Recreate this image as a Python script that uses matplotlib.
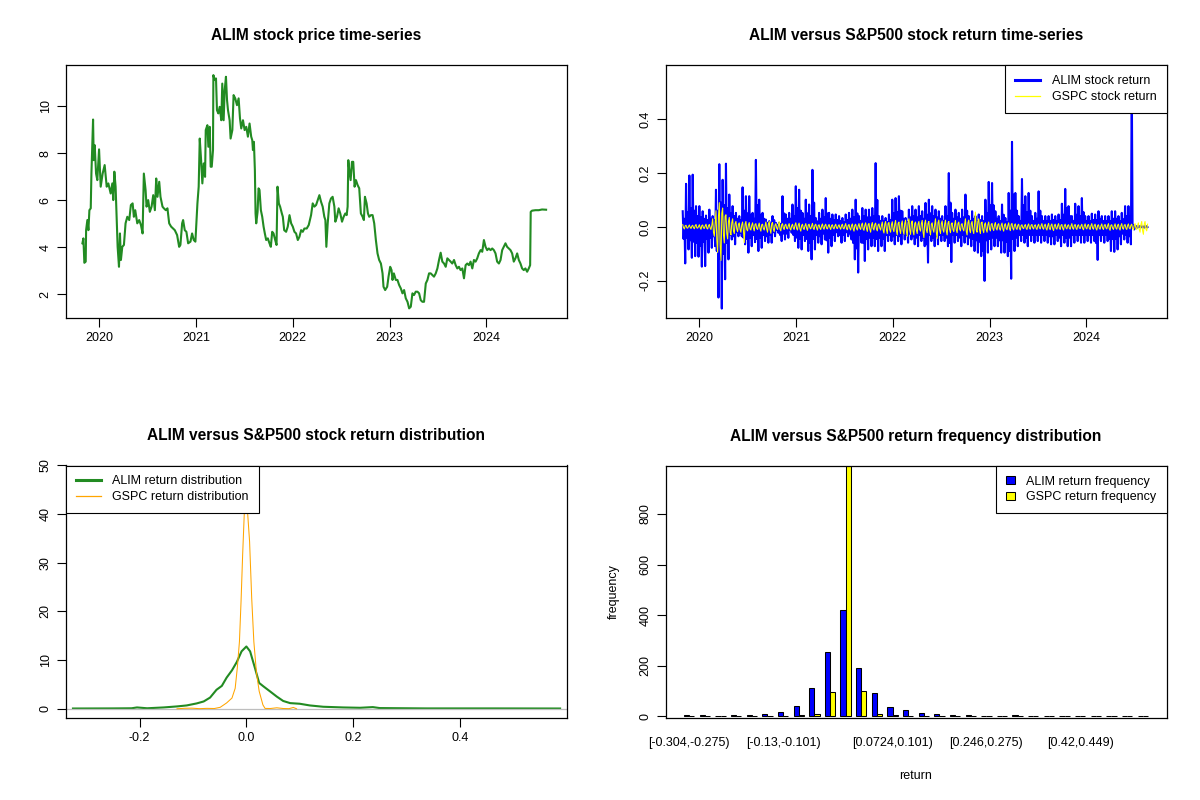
import numpy as np
import matplotlib
matplotlib.use("Agg")
import matplotlib.pyplot as plt
from matplotlib.lines import Line2D
from matplotlib.patches import Patch
from matplotlib.ticker import FormatStrFormatter

plt.rcParams["font.family"] = ["Liberation Sans", "DejaVu Sans"]
plt.rcParams["axes.unicode_minus"] = False

# ---- data ----

# ALIM closing price (decimal year, USD)
price_years = [
    2019.825, 2019.835, 2019.845, 2019.859, 2019.863, 2019.876, 2019.887, 2019.897, 2019.911, 2019.918,
    2019.935, 2019.942, 2019.952, 2019.966, 2019.979, 2019.997, 2020.014, 2020.034, 2020.055, 2020.076,
    2020.093, 2020.117, 2020.134, 2020.144, 2020.155, 2020.168, 2020.179, 2020.189, 2020.203, 2020.213,
    2020.223, 2020.237, 2020.254, 2020.271, 2020.289, 2020.309, 2020.326, 2020.344, 2020.357, 2020.371,
    2020.392, 2020.412, 2020.430, 2020.447, 2020.460, 2020.478, 2020.488, 2020.505, 2020.522, 2020.540,
    2020.557, 2020.574, 2020.588, 2020.601, 2020.619, 2020.632, 2020.653, 2020.667, 2020.687, 2020.704,
    2020.722, 2020.742, 2020.763, 2020.780, 2020.804, 2020.825, 2020.838, 2020.856, 2020.866, 2020.883,
    2020.900, 2020.918, 2020.942, 2020.959, 2020.976, 2020.993, 2021.003, 2021.014, 2021.027, 2021.038,
    2021.052, 2021.065, 2021.079, 2021.093, 2021.100, 2021.117, 2021.127, 2021.141, 2021.151, 2021.162,
    2021.175, 2021.179, 2021.192, 2021.206, 2021.216, 2021.230, 2021.244, 2021.261, 2021.271, 2021.285,
    2021.296, 2021.309, 2021.320, 2021.330, 2021.347, 2021.357, 2021.375, 2021.388, 2021.405, 2021.423,
    2021.440, 2021.454, 2021.467, 2021.485, 2021.502, 2021.519, 2021.536, 2021.553, 2021.570, 2021.581,
    2021.588, 2021.598, 2021.608, 2021.615, 2021.622, 2021.636, 2021.646, 2021.656, 2021.670, 2021.684,
    2021.698, 2021.711, 2021.725, 2021.742, 2021.759, 2021.773, 2021.787, 2021.801, 2021.818, 2021.832,
    2021.842, 2021.856, 2021.869, 2021.887, 2021.897, 2021.911, 2021.931, 2021.948, 2021.966, 2021.983,
    2022.000, 2022.017, 2022.034, 2022.052, 2022.069, 2022.086, 2022.103, 2022.120, 2022.144, 2022.165,
    2022.189, 2022.206, 2022.223, 2022.241, 2022.258, 2022.275, 2022.292, 2022.309, 2022.326, 2022.337,
    2022.347, 2022.361, 2022.378, 2022.395, 2022.412, 2022.430, 2022.440, 2022.457, 2022.474, 2022.491,
    2022.509, 2022.526, 2022.543, 2022.557, 2022.567, 2022.574, 2022.584, 2022.598, 2022.612, 2022.625,
    2022.639, 2022.653, 2022.670, 2022.687, 2022.704, 2022.722, 2022.735, 2022.746, 2022.763, 2022.777,
    2022.790, 2022.808, 2022.825, 2022.842, 2022.859, 2022.876, 2022.893, 2022.911, 2022.928, 2022.938,
    2022.955, 2022.976, 2022.990, 2023.007, 2023.021, 2023.031, 2023.045, 2023.065, 2023.082, 2023.100,
    2023.117, 2023.134, 2023.151, 2023.168, 2023.186, 2023.203, 2023.220, 2023.237, 2023.254, 2023.271,
    2023.289, 2023.306, 2023.323, 2023.340, 2023.357, 2023.375, 2023.392, 2023.409, 2023.426, 2023.443,
    2023.460, 2023.478, 2023.495, 2023.512, 2023.529, 2023.546, 2023.564, 2023.581, 2023.598, 2023.615,
    2023.632, 2023.649, 2023.667, 2023.684, 2023.701, 2023.718, 2023.735, 2023.753, 2023.770, 2023.787,
    2023.804, 2023.821, 2023.838, 2023.856, 2023.873, 2023.890, 2023.907, 2023.924, 2023.942, 2023.959,
    2023.976, 2023.993, 2024.010, 2024.027, 2024.045, 2024.062, 2024.079, 2024.096, 2024.113, 2024.131,
    2024.148, 2024.165, 2024.182, 2024.199, 2024.216, 2024.234, 2024.251, 2024.268, 2024.285, 2024.302,
    2024.320, 2024.337, 2024.354, 2024.371, 2024.388, 2024.405, 2024.423, 2024.440, 2024.454, 2024.460,
    2024.474, 2024.509, 2024.543, 2024.577, 2024.619,
]
price_values = [
    4.16, 4.37, 3.33, 3.38, 4.72, 5.15, 4.72, 5.57, 5.65, 7.13,
    9.43, 7.70, 8.34, 7.13, 6.85, 8.16, 6.57, 7.13, 7.49, 6.57,
    6.71, 6.28, 6.71, 6.00, 7.21, 6.57, 5.29, 4.01, 3.16, 4.58,
    3.45, 4.01, 4.09, 5.01, 5.29, 5.15, 5.79, 5.86, 5.29, 5.57,
    5.01, 5.15, 4.94, 4.58, 7.13, 6.43, 5.72, 6.00, 5.50, 5.72,
    6.21, 5.57, 6.92, 6.14, 6.78, 6.14, 5.72, 5.65, 5.57, 5.65,
    5.01, 4.87, 4.79, 4.72, 4.51, 4.01, 4.09, 5.01, 5.15, 4.72,
    4.65, 4.16, 4.23, 4.58, 4.30, 4.23, 5.01, 5.86, 6.57, 8.62,
    7.70, 6.71, 7.56, 6.99, 8.98, 9.19, 8.27, 9.12, 7.42, 7.42,
    8.13, 11.32, 11.11, 11.18, 9.83, 9.69, 9.97, 9.40, 10.96, 9.40,
    10.68, 11.25, 10.26, 9.83, 9.40, 8.62, 8.98, 10.47, 10.33, 10.04,
    10.33, 9.48, 9.05, 9.40, 8.98, 9.12, 8.70, 9.26, 8.70, 8.55,
    8.13, 8.48, 7.28, 5.43, 5.01, 5.50, 6.50, 6.43, 5.57, 5.29,
    4.87, 4.58, 4.30, 4.37, 4.16, 4.01, 4.65, 4.58, 4.30, 4.09,
    6.57, 5.86, 5.72, 5.43, 5.29, 4.72, 4.65, 4.87, 5.36, 5.01,
    4.87, 4.65, 4.58, 4.30, 4.44, 4.72, 4.65, 4.79, 4.79, 4.94,
    5.36, 5.86, 5.72, 5.79, 6.00, 6.21, 5.93, 5.72, 5.29, 5.15,
    4.01, 5.01, 5.86, 6.07, 6.14, 5.72, 5.08, 5.29, 5.65, 5.43,
    5.08, 5.29, 5.43, 5.36, 5.72, 7.70, 7.28, 6.85, 7.63, 7.63,
    6.57, 6.85, 6.64, 6.50, 5.43, 5.29, 5.15, 6.14, 5.86, 5.43,
    5.29, 5.36, 5.36, 5.01, 4.30, 3.73, 3.45, 3.30, 2.88, 2.31,
    2.17, 2.31, 2.74, 3.16, 3.02, 2.60, 2.88, 2.60, 2.60, 2.38,
    2.24, 2.03, 2.17, 1.82, 1.67, 1.39, 1.46, 2.03, 1.96, 2.10,
    2.10, 2.03, 1.74, 1.67, 1.67, 2.45, 2.60, 2.88, 2.88, 2.81,
    2.74, 2.88, 3.09, 3.45, 3.76, 3.38, 3.30, 3.16, 3.52, 3.45,
    3.38, 3.30, 3.45, 3.23, 3.09, 3.16, 3.02, 3.09, 2.67, 3.23,
    3.30, 3.23, 3.38, 3.09, 3.45, 3.38, 3.52, 3.73, 3.87, 3.80,
    4.30, 4.01, 3.87, 3.94, 3.87, 3.94, 3.87, 3.73, 3.38, 3.30,
    3.45, 3.87, 4.01, 4.16, 4.01, 3.94, 3.87, 3.73, 3.38, 3.52,
    3.73, 3.45, 3.30, 3.09, 3.02, 3.09, 2.95, 3.09, 3.23, 5.50,
    5.55, 5.57, 5.57, 5.60, 5.59,
]

# daily returns, first and last trading day of the sample
ret_start, ret_end = 2019.828, 2024.634
# ALIM returns: largest up and down move in each ~two-week stretch
alim_returns = [
    0.058, -0.136, 0.160, -0.084, 0.191, -0.115, 0.194, -0.109, 0.077, -0.111, 0.077, -0.148, 0.058, -0.146, 0.042, -0.096, 0.064, -0.078, 0.040, -0.072,
    0.138, -0.263, 0.233, -0.304, 0.175, -0.195, 0.235, -0.121, 0.120, -0.047, 0.077, -0.065, 0.052, -0.035, 0.040, -0.035, 0.147, -0.065, 0.114, -0.096,
    0.114, -0.072, 0.052, -0.057, 0.249, -0.090, 0.101, -0.078, 0.052, -0.053, 0.027, -0.059, 0.021, -0.059, 0.040, -0.035, 0.015, -0.022, 0.015, -0.053,
    0.114, -0.047, 0.046, -0.041, 0.052, -0.022, 0.083, -0.053, 0.151, -0.078, 0.138, -0.084, 0.052, -0.053, 0.101, -0.090, 0.083, -0.121, 0.212, -0.084,
    0.033, -0.059, 0.052, -0.065, 0.064, -0.047, 0.107, -0.096, 0.052, -0.072, 0.046, -0.053, 0.046, -0.035, 0.040, -0.059, 0.033, -0.053, 0.046, -0.035,
    0.052, -0.047, 0.064, -0.121, 0.101, -0.170, 0.040, -0.059, 0.070, -0.127, 0.064, -0.084, 0.064, -0.072, 0.070, -0.072, 0.237, -0.090, 0.040, -0.072,
    0.040, -0.090, 0.033, -0.053, 0.046, -0.053, 0.101, -0.065, 0.107, -0.053, 0.114, -0.065, 0.058, -0.047, 0.033, -0.059, 0.064, -0.047, 0.077, -0.065,
    0.064, -0.072, 0.077, -0.053, 0.058, -0.072, 0.089, -0.133, 0.101, -0.053, 0.077, -0.072, 0.064, -0.065, 0.058, -0.053, 0.040, -0.053, 0.077, -0.072,
    0.200, -0.131, 0.052, -0.059, 0.064, -0.053, 0.052, -0.072, 0.064, -0.059, 0.120, -0.065, 0.040, -0.072, 0.058, -0.090, 0.040, -0.096, 0.046, -0.109,
    0.040, -0.201, 0.101, -0.096, 0.167, -0.084, 0.163, -0.072, 0.058, -0.072, 0.040, -0.096, 0.083, -0.096, 0.033, -0.109, 0.126, -0.193, 0.316, -0.090,
    0.126, -0.072, 0.040, -0.053, 0.178, -0.059, 0.114, -0.072, 0.126, -0.053, 0.040, -0.059, 0.052, -0.053, 0.132, -0.059, 0.040, -0.053, 0.040, -0.059,
    0.040, -0.065, 0.046, -0.065, 0.040, -0.053, 0.046, -0.072, 0.086, -0.059, 0.141, -0.072, 0.077, -0.072, 0.040, -0.059, 0.086, -0.053, 0.077, -0.059,
    0.107, -0.059, 0.040, -0.053, 0.040, -0.059, 0.049, -0.053, 0.046, -0.123, 0.058, -0.053, 0.040, -0.059, 0.040, -0.053, 0.040, -0.090, 0.058, -0.093,
    0.058, -0.084, 0.040, -0.065, 0.052, -0.047, 0.077, -0.059, 0.077, -0.065, 0.565, -0.010, 0.004, -0.003, 0.003, -0.002, 0.002, -0.003, 0.003, -0.001,
]
# ALIM returns: a typical up and down day in the same stretches (dense core of the band)
alim_typical = [
    0.030, -0.045, 0.055, -0.040, 0.070, -0.050, 0.060, -0.055, 0.040, -0.060, 0.035, -0.070, 0.030, -0.055, 0.025, -0.045, 0.030, -0.040, 0.025, -0.035,
    0.060, -0.090, 0.090, -0.120, 0.080, -0.100, 0.070, -0.060, 0.050, -0.030, 0.040, -0.035, 0.030, -0.020, 0.025, -0.022, 0.060, -0.040, 0.050, -0.045,
    0.045, -0.040, 0.030, -0.030, 0.080, -0.045, 0.045, -0.040, 0.030, -0.030, 0.015, -0.035, 0.012, -0.030, 0.025, -0.020, 0.008, -0.012, 0.010, -0.030,
    0.050, -0.025, 0.030, -0.025, 0.030, -0.012, 0.040, -0.030, 0.070, -0.040, 0.060, -0.045, 0.030, -0.030, 0.050, -0.045, 0.040, -0.060, 0.090, -0.045,
    0.020, -0.030, 0.030, -0.035, 0.035, -0.025, 0.050, -0.050, 0.030, -0.040, 0.025, -0.030, 0.025, -0.020, 0.022, -0.030, 0.018, -0.030, 0.025, -0.020,
    0.030, -0.025, 0.035, -0.060, 0.050, -0.080, 0.022, -0.030, 0.040, -0.060, 0.035, -0.045, 0.035, -0.040, 0.040, -0.040, 0.100, -0.045, 0.022, -0.040,
    0.022, -0.045, 0.018, -0.030, 0.025, -0.030, 0.050, -0.035, 0.055, -0.030, 0.060, -0.035, 0.030, -0.025, 0.018, -0.030, 0.035, -0.025, 0.040, -0.035,
    0.035, -0.040, 0.040, -0.030, 0.030, -0.040, 0.045, -0.065, 0.050, -0.030, 0.040, -0.040, 0.035, -0.035, 0.030, -0.030, 0.022, -0.030, 0.040, -0.040,
    0.090, -0.060, 0.030, -0.030, 0.035, -0.030, 0.030, -0.040, 0.035, -0.030, 0.060, -0.035, 0.022, -0.040, 0.030, -0.045, 0.022, -0.050, 0.025, -0.055,
    0.022, -0.090, 0.050, -0.050, 0.080, -0.045, 0.080, -0.040, 0.030, -0.040, 0.022, -0.050, 0.045, -0.050, 0.018, -0.055, 0.060, -0.090, 0.120, -0.045,
    0.060, -0.040, 0.022, -0.030, 0.080, -0.030, 0.055, -0.040, 0.060, -0.030, 0.022, -0.030, 0.030, -0.030, 0.060, -0.030, 0.022, -0.030, 0.022, -0.030,
    0.022, -0.035, 0.025, -0.035, 0.022, -0.030, 0.025, -0.040, 0.045, -0.030, 0.070, -0.040, 0.040, -0.040, 0.022, -0.030, 0.045, -0.030, 0.040, -0.030,
    0.055, -0.030, 0.022, -0.030, 0.022, -0.030, 0.025, -0.030, 0.025, -0.060, 0.030, -0.030, 0.022, -0.030, 0.022, -0.030, 0.022, -0.045, 0.030, -0.045,
    0.030, -0.045, 0.022, -0.035, 0.028, -0.025, 0.040, -0.030, 0.040, -0.035, 0.005, -0.004, 0.002, -0.002, 0.002, -0.001, 0.001, -0.002, 0.002, -0.001,
]
# S&P500 (GSPC) returns: largest up and down move in the same stretches
gspc_returns = [
    0.008, -0.008, 0.006, -0.005, 0.007, -0.006, 0.006, -0.007, 0.009, -0.005, 0.008, -0.009, 0.007, -0.006, 0.010, -0.008, 0.009, -0.010, 0.030, -0.035,
    0.060, -0.095, 0.090, -0.125, 0.070, -0.060, 0.045, -0.045, 0.035, -0.030, 0.030, -0.025, 0.020, -0.018, 0.015, -0.020, 0.018, -0.059, 0.020, -0.015,
    0.016, -0.012, 0.015, -0.015, 0.012, -0.010, 0.014, -0.016, 0.010, -0.012, 0.018, -0.020, 0.020, -0.024, 0.016, -0.018, 0.012, -0.010, 0.020, -0.015,
    0.012, -0.010, 0.010, -0.008, 0.012, -0.012, 0.010, -0.010, 0.015, -0.012, 0.014, -0.016, 0.010, -0.010, 0.012, -0.013, 0.010, -0.008, 0.013, -0.010,
    0.010, -0.012, 0.008, -0.010, 0.011, -0.009, 0.010, -0.008, 0.009, -0.010, 0.008, -0.008, 0.010, -0.007, 0.008, -0.009, 0.010, -0.008, 0.012, -0.011,
    0.009, -0.012, 0.011, -0.016, 0.010, -0.012, 0.012, -0.010, 0.014, -0.013, 0.015, -0.017, 0.013, -0.020, 0.016, -0.012, 0.014, -0.015, 0.011, -0.012,
    0.018, -0.023, 0.020, -0.025, 0.016, -0.020, 0.019, -0.018, 0.024, -0.030, 0.018, -0.025, 0.022, -0.028, 0.025, -0.035, 0.030, -0.028, 0.022, -0.030,
    0.018, -0.025, 0.020, -0.016, 0.024, -0.040, 0.025, -0.022, 0.020, -0.030, 0.015, -0.020, 0.030, -0.043, 0.025, -0.025, 0.022, -0.020, 0.025, -0.030,
    0.020, -0.022, 0.015, -0.018, 0.024, -0.022, 0.018, -0.015, 0.012, -0.015, 0.030, -0.030, 0.025, -0.022, 0.020, -0.025, 0.055, -0.020, 0.030, -0.025,
    0.018, -0.022, 0.015, -0.020, 0.018, -0.015, 0.013, -0.014, 0.016, -0.012, 0.012, -0.013, 0.014, -0.016, 0.012, -0.011, 0.015, -0.014, 0.013, -0.012,
    0.011, -0.010, 0.010, -0.012, 0.008, -0.007, 0.009, -0.010, 0.011, -0.009, 0.009, -0.008, 0.008, -0.010, 0.010, -0.008, 0.012, -0.009, 0.010, -0.012,
    0.013, -0.011, 0.011, -0.014, 0.010, -0.009, 0.012, -0.010, 0.009, -0.012, 0.010, -0.008, 0.008, -0.009, 0.012, -0.009, 0.009, -0.010, 0.008, -0.007,
    0.010, -0.011, 0.011, -0.008, 0.009, -0.010, 0.012, -0.009, 0.010, -0.012, 0.008, -0.009, 0.011, -0.010, 0.009, -0.008, 0.012, -0.013, 0.008, -0.010,
    0.011, -0.009, 0.010, -0.012, 0.012, -0.009, 0.009, -0.010, 0.011, -0.008, 0.010, -0.011, 0.012, -0.010, 0.015, -0.020, 0.020, -0.028, 0.020, -0.015,
]
# S&P500 (GSPC) returns: a typical up and down day in the same stretches
gspc_typical = [
    0.004, -0.003, 0.002, -0.004, 0.003, -0.002, 0.004, -0.003, 0.002, -0.004, 0.005, -0.003, 0.003, -0.004, 0.004, -0.005, 0.006, -0.004, 0.015, -0.020,
    0.040, -0.050, 0.050, -0.070, 0.040, -0.030, 0.020, -0.025, 0.015, -0.020, 0.012, -0.015, 0.010, -0.008, 0.008, -0.010, 0.010, -0.012, 0.008, -0.010,
    0.006, -0.008, 0.009, -0.005, 0.005, -0.006, 0.008, -0.007, 0.004, -0.006, 0.010, -0.008, 0.012, -0.010, 0.006, -0.009, 0.005, -0.004, 0.008, -0.009,
    0.006, -0.004, 0.005, -0.005, 0.004, -0.006, 0.006, -0.004, 0.007, -0.006, 0.005, -0.008, 0.004, -0.005, 0.007, -0.005, 0.004, -0.004, 0.006, -0.005,
    0.005, -0.004, 0.004, -0.005, 0.005, -0.004, 0.003, -0.005, 0.005, -0.003, 0.004, -0.004, 0.003, -0.004, 0.005, -0.003, 0.004, -0.005, 0.005, -0.006,
    0.005, -0.006, 0.006, -0.007, 0.004, -0.006, 0.007, -0.005, 0.006, -0.008, 0.008, -0.006, 0.006, -0.009, 0.009, -0.006, 0.007, -0.008, 0.006, -0.005,
    0.010, -0.012, 0.012, -0.010, 0.008, -0.011, 0.010, -0.009, 0.012, -0.015, 0.010, -0.012, 0.012, -0.014, 0.015, -0.016, 0.014, -0.012, 0.012, -0.016,
    0.010, -0.012, 0.012, -0.009, 0.012, -0.018, 0.013, -0.011, 0.010, -0.014, 0.008, -0.010, 0.015, -0.020, 0.012, -0.013, 0.010, -0.011, 0.014, -0.015,
    0.011, -0.010, 0.008, -0.010, 0.012, -0.011, 0.009, -0.008, 0.007, -0.008, 0.015, -0.016, 0.012, -0.011, 0.010, -0.013, 0.020, -0.012, 0.015, -0.012,
    0.009, -0.011, 0.008, -0.010, 0.009, -0.008, 0.007, -0.007, 0.008, -0.006, 0.006, -0.007, 0.007, -0.008, 0.006, -0.006, 0.008, -0.007, 0.007, -0.006,
    0.006, -0.005, 0.005, -0.006, 0.004, -0.004, 0.005, -0.005, 0.006, -0.005, 0.005, -0.004, 0.004, -0.005, 0.005, -0.004, 0.006, -0.005, 0.005, -0.006,
    0.006, -0.006, 0.006, -0.007, 0.005, -0.005, 0.006, -0.005, 0.005, -0.006, 0.005, -0.004, 0.004, -0.005, 0.006, -0.005, 0.005, -0.005, 0.004, -0.004,
    0.005, -0.006, 0.006, -0.004, 0.005, -0.005, 0.006, -0.005, 0.005, -0.006, 0.004, -0.005, 0.006, -0.005, 0.005, -0.004, 0.006, -0.007, 0.004, -0.005,
    0.006, -0.005, 0.005, -0.006, 0.006, -0.005, 0.005, -0.005, 0.006, -0.004, 0.005, -0.006, 0.006, -0.005, 0.008, -0.010, 0.010, -0.014, 0.010, -0.008,
]

# kernel density estimates of the returns
alim_dens_x = [-0.325, -0.250, -0.215, -0.205, -0.186, -0.155, -0.130, -0.112, -0.093, -0.080,
               -0.068, -0.056, -0.046, -0.037, -0.027, -0.018, -0.009, 0.000, 0.007, 0.016,
               0.024, 0.032, 0.044, 0.057, 0.069, 0.082, 0.100, 0.119, 0.144, 0.181,
               0.213, 0.237, 0.250, 0.337, 0.462, 0.588]
alim_dens_y = [0.05, 0.07, 0.10, 0.27, 0.10, 0.27, 0.48, 0.68, 1.10, 1.50,
               2.30, 3.90, 4.70, 6.40, 7.90, 9.60, 11.8, 12.8, 11.8, 8.40,
               5.30, 4.60, 3.60, 2.50, 1.60, 1.16, 1.03, 0.68, 0.41, 0.27,
               0.20, 0.34, 0.14, 0.07, 0.07, 0.05]
gspc_dens_x = [-0.130, -0.115, -0.102, -0.088, -0.074, -0.060, -0.049, -0.037, -0.027, -0.021,
               -0.017, -0.013, -0.010, -0.007, -0.004, -0.001, 0.0025, 0.006, 0.010, 0.014,
               0.019, 0.024, 0.031, 0.035, 0.045, 0.057, 0.069, 0.080, 0.088, 0.094]
gspc_dens_y = [0.00, 0.10, 0.12, 0.02, 0.08, 0.05, 0.30, 1.20, 2.20, 4.20,
               8.40, 13.8, 22.0, 31.6, 39.9, 47.0, 40.0, 34.4, 22.7, 13.8,
               7.30, 3.60, 0.80, 0.07, 0.05, 0.20, 0.05, 0.02, 0.27, 0.00]

# frequency of returns in 30 bins of width 0.029 from -0.304 to 0.565
alim_counts = [4, 4, 0, 4, 3, 9, 17, 41, 112, 255, 421, 191, 92, 37, 25,
               13, 9, 5, 5, 0, 0, 4, 0, 0, 0, 0, 0, 0, 0, 1]
gspc_counts = [0, 0, 0, 0, 0, 0, 2, 4, 9, 96, 1027, 100, 9, 4, 1,
               0, 0, 0, 0, 0, 0, 0, 0, 0, 0, 0, 0, 0, 0, 0]
bin_label_groups = [1, 7, 14, 20, 26]
bin_labels = ["[-0.304,-0.275)", "[-0.13,-0.101)", "[0.0724,0.101)",
              "[0.246,0.275)", "[0.42,0.449)"]

year_ticks = [2020, 2021, 2022, 2023, 2024]

# ---- styling ----
FS = 9.0
TITLE_FS = 11.2
GREEN = "#228B22"
W, H = 1200, 800


def panel(left, top):
    return fig.add_axes([left / W, 1 - (top + 252.5) / H, 501 / W, 252.5 / H])


def finish(ax, title):
    ax.set_title(title, fontsize=TITLE_FS, fontweight="bold", pad=18)
    for s in ax.spines.values():
        s.set_linewidth(0.9)
    ax.tick_params(direction="out", length=6.5, width=0.8, labelsize=FS, pad=3.5)
    plt.setp(ax.get_yticklabels(), rotation=90, va="center")


def r_legend(ax, handles, labels, loc, **kw):
    opts = dict(borderpad=0.8, labelspacing=0.3, handlelength=2.0, handletextpad=0.95)
    opts.update(kw)
    leg = ax.legend(handles, labels, loc=loc, fontsize=FS, frameon=True, fancybox=False,
                    edgecolor="black", framealpha=1, borderaxespad=0, **opts)
    leg.get_frame().set_linewidth(0.8)
    return leg


def day_order(extremes, typical, order):
    """Put the per-stretch values back in a day-by-day sequence."""
    ext = np.asarray(extremes)
    typ = np.asarray(typical)
    cols = {"hi": ext[0::2], "lo": ext[1::2], "up": typ[0::2], "dn": typ[1::2]}
    return np.column_stack([cols[k] for k in order]).ravel()


fig = plt.figure(figsize=(12, 8), dpi=100)
ax1 = panel(65.5, 65.5)
ax2 = panel(665.5, 65.5)
ax3 = panel(65.5, 465.5)
ax4 = panel(665.5, 465.5)

# price series
ax1.plot(price_years, price_values, color=GREEN, lw=1.5, solid_joinstyle="round")
ax1.set_xlim(2019.65, 2024.83)
ax1.set_ylim(0.98, 11.73)
ax1.set_xticks(year_ticks)
ax1.set_xticklabels([str(y) for y in year_ticks])
ax1.set_yticks([2, 4, 6, 8, 10])
finish(ax1, "ALIM stock price time-series")

# return series
alim_daily = day_order(alim_returns, alim_typical, ["hi", "dn", "up", "lo"])
gspc_daily = day_order(gspc_returns, gspc_typical, ["hi", "dn", "lo", "up"])
alim_t = np.linspace(ret_start, ret_end, len(alim_daily))
gspc_t = np.linspace(ret_start, ret_end, len(gspc_daily))
ax2.plot(alim_t, alim_daily, color="blue", lw=1.5)
ax2.plot(gspc_t, gspc_daily, color="yellow", lw=0.75)
ax2.set_xlim(2019.65, 2024.83)
ax2.set_ylim(-0.339, 0.600)
ax2.set_xticks(year_ticks)
ax2.set_xticklabels([str(y) for y in year_ticks])
ax2.set_yticks([-0.2, 0.0, 0.2, 0.4])
ax2.yaxis.set_major_formatter(FormatStrFormatter("%.1f"))
finish(ax2, "ALIM versus S&P500 stock return time-series")
r_legend(ax2, [Line2D([], [], color="blue", lw=2.2), Line2D([], [], color="yellow", lw=0.9)],
         ["ALIM stock return", "GSPC stock return"], "upper right")

# densities
ax3.plot(alim_dens_x, alim_dens_y, color=GREEN, lw=1.5)
ax3.axhline(0, color="#BEBEBE", lw=0.9)
ax3.plot(gspc_dens_x, gspc_dens_y, color="orange", lw=0.75)
ax3.set_xlim(-0.339, 0.600)
ax3.set_ylim(-1.9, 50)
ax3.set_xticks([-0.2, 0.0, 0.2, 0.4])
ax3.xaxis.set_major_formatter(FormatStrFormatter("%.1f"))
ax3.set_yticks([0, 10, 20, 30, 40, 50])
finish(ax3, "ALIM versus S&P500 stock return distribution")
r_legend(ax3, [Line2D([], [], color=GREEN, lw=2.2), Line2D([], [], color="orange", lw=0.9)],
         ["ALIM return distribution", "GSPC return distribution"], "upper left")

# grouped frequency bars
groups = np.arange(1, len(alim_counts) + 1)
ax4.bar(3 * groups - 2, alim_counts, width=1, align="edge", color="blue",
        edgecolor="black", lw=0.75)
ax4.bar(3 * groups - 1, gspc_counts, width=1, align="edge", color="yellow",
        edgecolor="black", lw=0.75)
ax4.set_xlim(-2.56, 93.56)
ax4.set_ylim(-7, 992)
ax4.set_yticks([0, 200, 400, 600, 800])
ax4.set_xticks([3 * g - 1 for g in bin_label_groups])
ax4.set_xticklabels(bin_labels)
ax4.set_xlabel("return", fontsize=FS, labelpad=15)
ax4.set_ylabel("frequency", fontsize=FS, labelpad=14)
finish(ax4, "ALIM versus S&P500 return frequency distribution")
ax4.tick_params(axis="x", length=0, pad=14)
r_legend(ax4, [Patch(facecolor="blue", edgecolor="black", lw=0.75),
               Patch(facecolor="yellow", edgecolor="black", lw=0.75)],
         ["ALIM return frequency", "GSPC return frequency"], "upper right",
         handlelength=0.72, handleheight=0.64, handletextpad=0.9)

fig.savefig("out.png", dpi=100)
